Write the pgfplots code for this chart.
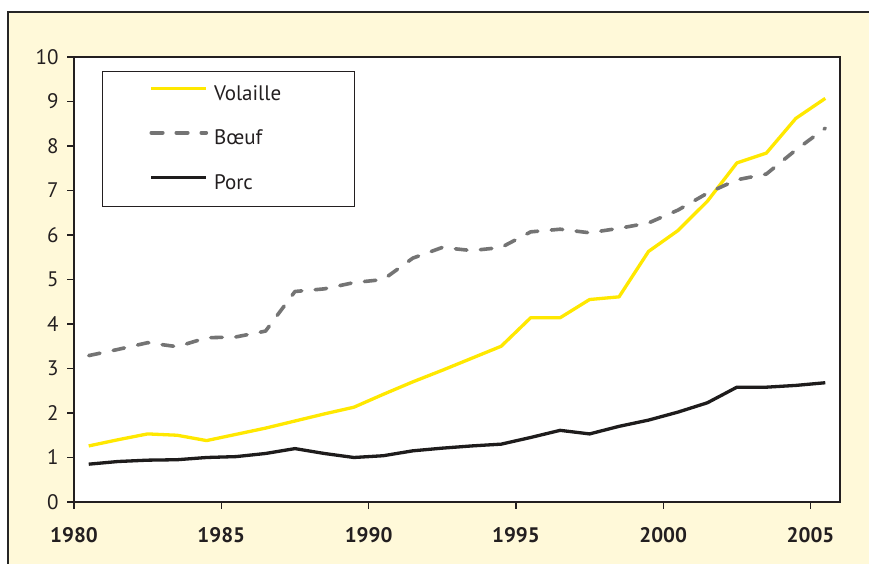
\documentclass[border=0pt]{standalone}
\usepackage{pgfplots}
\pgfplotsset{compat=1.18}
\usepackage{fontspec}
\setmainfont{PT Sans}
\definecolor{cream}{HTML}{FFF9D9}
\definecolor{volaille}{HTML}{FFE800}
\definecolor{boeuf}{HTML}{747474}
\definecolor{porc}{HTML}{1E1C1C}
\definecolor{txt}{HTML}{231F20}
\begin{document}
\begin{tikzpicture}[x=1pt,y=1pt]
\useasboundingbox (0,0) rectangle (869,564);
\clip (0,0) rectangle (869,564);
\fill[cream] (8,-10) rectangle (880,552);
\draw[line width=1.2pt, black!85] (8,-10) -- (8,552) -- (880,552);
\begin{axis}[
  at={(74pt,62pt)}, anchor=south west,
  scale only axis, width=766pt, height=445pt,
  xmin=1980, xmax=2006, ymin=0, ymax=10,
  xtick={1980,1985,1990,1995,2000,2005},
  ytick={0,1,...,10},
  xtick pos=bottom, ytick pos=left,
  tick align=outside, major tick length=7pt,
  axis line style={line width=1.5pt, txt},
  tick style={line width=1.3pt, txt},
  axis background/.style={fill=white},
  /pgf/number format/assume math mode=true,
  /pgf/number format/1000 sep={},
  ticklabel style={font=\fontsize{21}{25}\selectfont, text=txt},
  xticklabel style={font=\fontsize{21}{25}\selectfont\bfseries, anchor=north, yshift=-15pt},
  yticklabel style={anchor=east, xshift=-5pt},
  legend style={at={(0.03655,0.9692)}, anchor=north west,
    draw=txt, line width=1pt, fill=white,
    inner xsep=47pt, inner ysep=13pt, row sep=24.5pt,
    font=\fontsize{21}{25}\selectfont, text=txt,
    nodes={inner sep=0pt, text height=16pt, text depth=4pt},
    /tikz/every even column/.append style={text width=93pt, align=left},
    /tikz/every odd column/.append style={column sep=6pt}},
  legend cell align=left,
  legend image code/.code={\draw[#1] (0pt,6pt) -- (55pt,6pt);},
]
\addplot[volaille, line width=3.3pt, line join=round] coordinates {
(1980.5,1.26) (1981.5,1.40) (1982.5,1.53) (1983.5,1.50) (1984.5,1.38)
(1985.5,1.52) (1986.5,1.66) (1987.5,1.82) (1988.5,1.98) (1989.5,2.13)
(1990.5,2.42) (1991.5,2.70) (1992.5,2.96) (1993.5,3.23) (1994.5,3.50)
(1995.5,4.14) (1996.5,4.14) (1997.5,4.55) (1998.5,4.61) (1999.5,5.63)
(2000.5,6.10) (2001.5,6.76) (2002.5,7.62) (2003.5,7.84) (2004.5,8.62)
(2005.5,9.07)};
\addlegendentry{Volaille}
\addplot[boeuf, line width=3.6pt, line cap=round, line join=round, dash pattern=on 11.5pt off 13.5pt] coordinates {
(1980.5,3.29) (1981.5,3.43) (1982.5,3.58) (1983.5,3.49) (1984.5,3.69)
(1985.5,3.71) (1986.5,3.84) (1987.5,4.73) (1988.5,4.79) (1989.5,4.93)
(1990.5,5.00) (1991.5,5.48) (1992.5,5.72) (1993.5,5.65) (1994.5,5.72)
(1995.5,6.07) (1996.5,6.13) (1997.5,6.05) (1998.5,6.15) (1999.5,6.27)
(2000.5,6.56) (2001.5,6.94) (2002.5,7.24) (2003.5,7.37) (2004.5,7.91)
(2005.5,8.40)};
\addlegendentry{Bœuf}
\addplot[porc, line width=3.3pt, line join=round] coordinates {
(1980.5,0.85) (1981.5,0.91) (1982.5,0.94) (1983.5,0.95) (1984.5,1.00)
(1985.5,1.02) (1986.5,1.09) (1987.5,1.20) (1988.5,1.09) (1989.5,1.00)
(1990.5,1.04) (1991.5,1.15) (1992.5,1.21) (1993.5,1.26) (1994.5,1.30)
(1995.5,1.45) (1996.5,1.61) (1997.5,1.53) (1998.5,1.70) (1999.5,1.84)
(2000.5,2.02) (2001.5,2.23) (2002.5,2.58) (2003.5,2.58) (2004.5,2.62)
(2005.5,2.68)};
\addlegendentry{Porc}
\end{axis}
\end{tikzpicture}
\end{document}
